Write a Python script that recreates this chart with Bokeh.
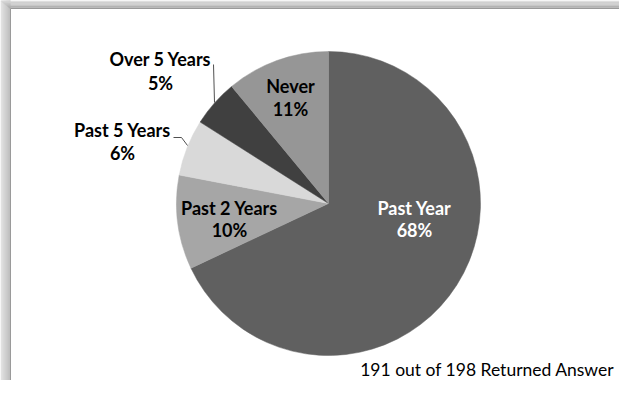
import numpy as np
from bokeh.plotting import figure
from bokeh.models import Range1d, ColumnDataSource
from bokeh.core.properties import value
from bokeh.embed import file_html
from bokeh.resources import INLINE

# ---- data ----
categories = ["Past Year", "Past 2 Years", "Past 5 Years", "Over 5 Years", "Never"]
percents = [68, 10, 6, 5, 11]
pct_labels = ["68%", "10%", "6%", "5%", "11%"]
footnote = "191 out of 198 Returned Answer"

# ---- styles / layout ----
colors = ["#606060", "#a6a6a6", "#d9d9d9", "#404040", "#969696"]
label_colors = ["white", "black", "black", "black", "black"]
W, H = 619, 380


def py(y):
    return H - y


cx, cy, R = 328, py(203), 152
# label centres in image pixels (name line y, pct line y)
label_x = [414, 229, 122, 160, 290]
label_y1 = [207, 207, 129, 58, 85]
label_y2 = [229, 229, 152, 82, 108]

vals = np.array(percents, dtype=float)
frac = vals / vals.sum()
cum = np.concatenate([[0], np.cumsum(frac)])
start = np.pi / 2 - cum[1:] * 2 * np.pi
end = np.pi / 2 - cum[:-1] * 2 * np.pi

src = ColumnDataSource(dict(cat=categories, start=start, end=end, color=colors))

p = figure(width=W, height=H, output_backend="svg", toolbar_location=None,
           x_range=Range1d(0, W), y_range=Range1d(0, H), min_border=0,
           x_axis_location=None, y_axis_location=None)
p.grid.visible = False
p.outline_line_color = None
p.background_fill_color = "white"
p.border_fill_color = "white"

# frame shadow (top and left), gradient getting darker toward the panel
PX0, PY0 = 10, 8
n = 10
ts = np.linspace(0, 1, n)
shade = ["#%02x%02x%02x" % ((int(0xdc - 0x34 * t),) * 3) for t in ts]
lx0 = PX0 * np.arange(n) / n
lx1 = PX0 * (np.arange(n) + 1) / n
ty0 = PY0 * np.arange(n) / n
ty1 = PY0 * (np.arange(n) + 1) / n
p.quad(left=lx0, right=lx1, bottom=np.zeros(n), top=np.full(n, H + 2.0),
       fill_color=shade, line_color=None)
p.quad(left=lx0, right=np.full(n, W + 20.0), bottom=H - ty1, top=H - ty0,
       fill_color=shade, line_color=None)
# panel
p.quad(left=[PX0], right=[W + 20], bottom=[-20], top=[py(PY0)], fill_color="white",
       line_color=None)
p.line(x=[PX0, PX0, W + 20], y=[-20, py(PY0), py(PY0)], line_color="#9a9a9a", line_width=1)

p.wedge(x=cx, y=cy, radius=R, start_angle="start", end_angle="end",
        fill_color="color", line_color="color", line_width=0.5, source=src)

lsrc = ColumnDataSource(dict(
    x=label_x,
    y1=[py(v) for v in label_y1],
    y2=[py(v) for v in label_y2],
    name=categories, pct=pct_labels, tc=label_colors))

p.text(x="x", y="y1", text="name", source=lsrc, text_color="tc",
       text_font=value("Lato"), text_font_style="bold", text_font_size="18px",
       text_align="center", text_baseline="middle")
p.text(x="x", y="y2", text="pct", source=lsrc, text_color="tc",
       text_font=value("Lato"), text_font_style="bold", text_font_size="18px",
       text_align="center", text_baseline="middle")

# leader lines
p.line(x=[213, 214], y=[py(64), py(102)], line_color="#505050", line_width=1)
p.line(x=[173, 181, 187], y=[py(137), py(137), py(145)],
       line_color="#505050", line_width=1)

p.text(x=[614], y=[py(369)], text=[footnote], text_color="black",
       text_font=value("Lato"), text_font_size="17.5px",
       text_align="right", text_baseline="middle")

open("out.html", "w").write(file_html(p, INLINE))
